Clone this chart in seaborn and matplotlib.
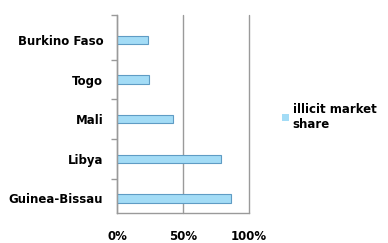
import matplotlib
matplotlib.use("Agg")
import matplotlib.pyplot as plt
import seaborn as sns
import pandas as pd
from matplotlib.patches import Patch
from matplotlib.ticker import PercentFormatter, FixedLocator

countries = ["Burkino Faso", "Togo", "Mali", "Libya", "Guinea-Bissau"]
share = [23, 24, 42, 79, 86]
series_name = "illicit market\nshare"
xticks = [0, 50, 100]

df = pd.DataFrame({"country": countries, "share": share})

sns.set_style("white")
plt.rcParams["font.family"] = ["DejaVu Sans"]

fig = plt.figure(figsize=(3.88, 2.43), dpi=100)
ax = fig.add_axes([0.302, 0.123, 0.34, 0.815])

sns.barplot(data=df, y="country", x="share", order=countries, orient="h",
            color="#a3dcf6", edgecolor="#5f9cc4", linewidth=0.8, width=0.21,
            saturation=1, ax=ax)

ax.set_xlim(0, 100)
ax.set_ylim(4.5 - 0.13, -0.5 - 0.13)
ax.set_xticks(xticks)
ax.xaxis.set_major_formatter(PercentFormatter(decimals=0))
ax.set_xlabel("")
ax.set_ylabel("")
ax.grid(axis="x", color="#9a9a9a", linewidth=1)
for gl in ax.get_xgridlines():
    gl.set_clip_on(False)
ax.set_axisbelow(True)
for s in ["top", "right"]:
    ax.spines[s].set_visible(False)
for s in ["left", "bottom"]:
    ax.spines[s].set_color("#9a9a9a")
    ax.spines[s].set_linewidth(1)
ax.yaxis.set_minor_locator(FixedLocator([-0.5 - 0.13, 0.5, 1.5, 2.5, 3.5]))
ax.tick_params(axis="y", which="minor", left=True, length=4, color="#9a9a9a",
               width=1, direction="out")
ax.tick_params(axis="x", labelsize=8.5, pad=12, length=0, labelcolor="black")
ax.tick_params(axis="y", which="major", labelsize=8.5, pad=10, length=0, labelcolor="black")
for lab in ax.get_xticklabels() + ax.get_yticklabels():
    lab.set_fontweight("bold")

handles = [Patch(facecolor="#a3dcf6", edgecolor="none", label=series_name)]
leg = fig.legend(handles=handles, loc="center left", bbox_to_anchor=(0.70, 0.52),
                 frameon=False, handlelength=0.6, handleheight=0.6,
                 handletextpad=0.3, prop={"weight": "bold", "size": 8.5})
for t in leg.get_texts():
    t.set_color("black")

fig.savefig("out.png", dpi=100)
